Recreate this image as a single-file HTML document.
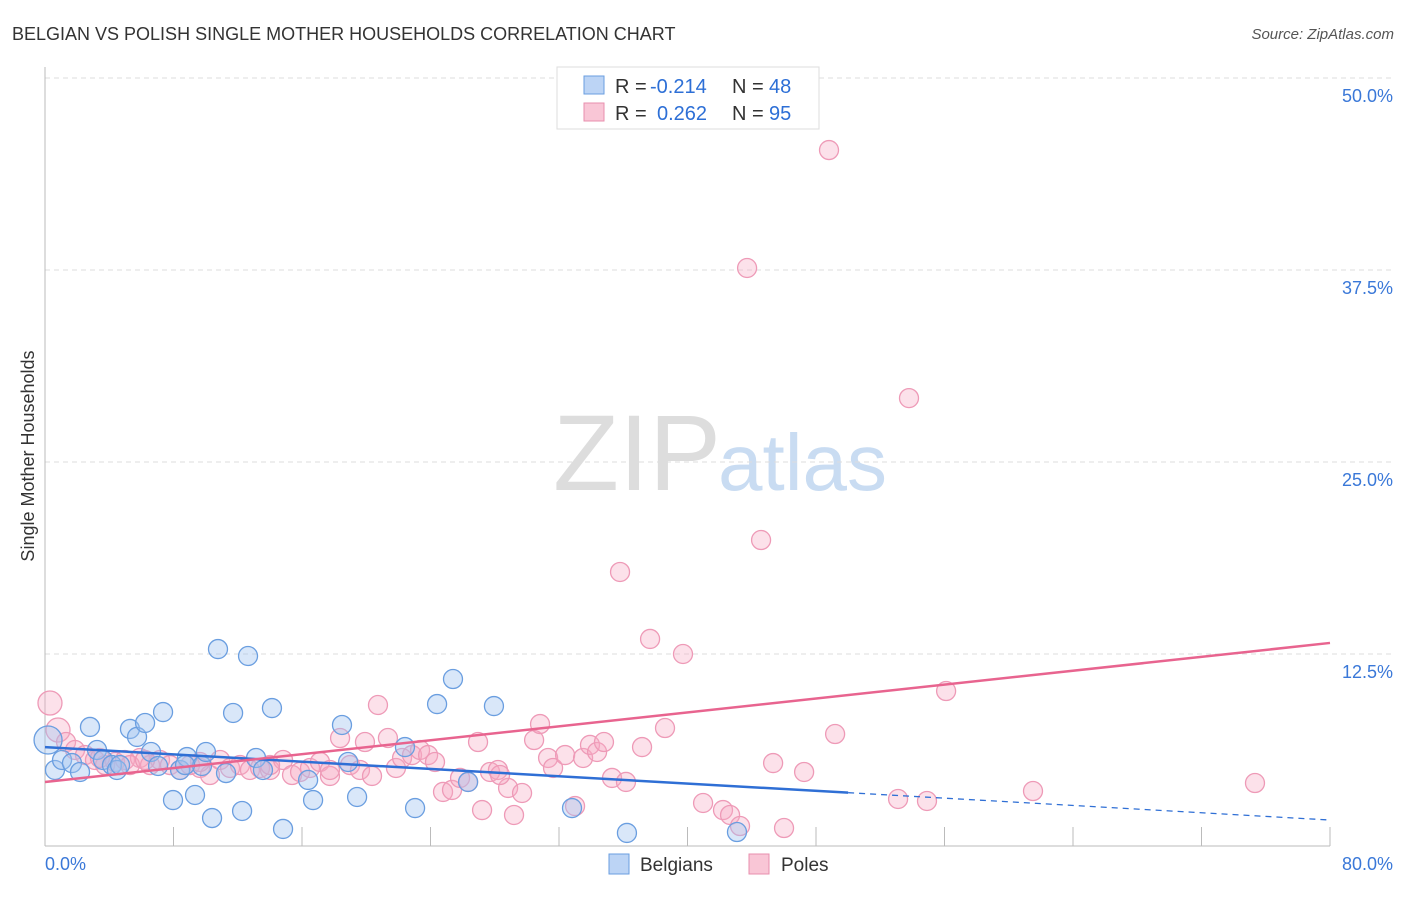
<!DOCTYPE html>
<html><head><meta charset="utf-8"><style>
body{margin:0;background:#fff;font-family:"Liberation Sans",sans-serif}
svg text{font-family:"Liberation Sans",sans-serif}
</style></head><body>
<svg id="chart" width="1406" height="892" viewBox="0 0 1406 892" xmlns="http://www.w3.org/2000/svg">
<text x="12" y="40" font-size="18" fill="#333">BELGIAN VS POLISH SINGLE MOTHER HOUSEHOLDS CORRELATION CHART</text>
<text x="1394" y="39" font-size="15" fill="#555" text-anchor="end" font-style="italic">Source: ZipAtlas.com</text>
<text x="553" y="490" font-size="108" fill="#ddd" font-family="Liberation Serif, serif">ZIP</text>
<text x="718" y="490" font-size="80" fill="#c9dcf2">atlas</text>
<text transform="translate(34,456) rotate(-90)" font-size="18" fill="#333" text-anchor="middle">Single Mother Households</text>
<g id="grid"></g><g id="axes"></g><g id="marks"></g><g id="trends"></g>
<g>
<rect x="557" y="67" width="262" height="62" fill="#fff" stroke="#ddd"/>
<rect x="584" y="76" width="20" height="18" fill="#bcd4f5" stroke="#6a9ee0"/>
<rect x="584" y="103" width="20" height="18" fill="#f9c6d6" stroke="#e88fae"/>
<text x="615" y="93" font-size="20" fill="#333">R =</text>
<text x="650" y="93" font-size="20" fill="#2d6fd6">-0.214</text>
<text x="732" y="93" font-size="20" fill="#333">N =</text>
<text x="769" y="93" font-size="20" fill="#2d6fd6">48</text>
<text x="615" y="120" font-size="20" fill="#333">R =</text>
<text x="657" y="120" font-size="20" fill="#2d6fd6">0.262</text>
<text x="732" y="120" font-size="20" fill="#333">N =</text>
<text x="769" y="120" font-size="20" fill="#2d6fd6">95</text>
</g>
<g>
<rect x="609" y="854" width="20" height="20" fill="#bcd4f5" stroke="#6a9ee0"/>
<text x="640" y="871" font-size="19" fill="#333">Belgians</text>
<rect x="749" y="854" width="20" height="20" fill="#f9c6d6" stroke="#e88fae"/>
<text x="781" y="871" font-size="19" fill="#333">Poles</text>
</g>
</svg>
<script>
const xTicks=[0,8,16,24,32,40,48,56,64,72,80];
const yTicks=[12.5,25,37.5,50];
const yTickLabels=["12.5%","25.0%","37.5%","50.0%"];
const belgX=[0.19,0.62,1.06,1.68,2.18,2.80,3.24,3.61,4.17,4.48,5.29,5.73,6.23,6.60,7.04,7.35,7.97,8.41,8.84,9.34,9.77,10.02,10.40,10.77,11.27,11.71,12.27,12.64,13.14,13.57,14.13,14.82,16.38,16.69,18.49,18.87,19.43,22.41,23.04,24.41,25.40,26.34,27.95,32.81,36.23,43.08,4.67,8.72];
const belgY=[6.90,4.95,5.60,5.40,4.82,7.75,6.25,5.60,5.27,4.95,7.62,7.10,8.01,6.12,5.21,8.72,2.99,4.95,5.79,3.32,5.21,6.12,1.82,12.82,4.75,8.66,2.28,12.37,5.73,4.95,8.98,1.11,4.30,2.99,7.88,5.47,3.19,6.44,2.47,9.24,10.87,4.17,9.11,2.47,0.85,0.91,5.27,5.27];
const polesX=[0.31,0.81,1.31,1.87,2.49,3.11,3.74,4.36,4.98,5.91,6.54,7.16,7.78,8.41,9.03,9.65,10.27,10.90,11.52,12.14,12.76,13.39,14.01,14.82,15.38,15.88,16.50,17.12,17.74,18.37,18.99,19.61,19.92,20.36,20.73,21.35,21.85,22.23,22.85,23.35,23.85,24.28,24.78,25.34,25.84,26.34,26.96,27.21,27.71,28.20,28.83,29.20,29.70,30.45,30.82,31.32,31.63,32.38,33.00,33.50,33.93,34.37,34.80,35.30,35.80,36.17,37.17,37.67,38.60,39.72,40.97,42.21,42.65,43.71,44.58,45.33,46.01,47.26,48.81,49.19,53.11,53.79,54.91,56.10,61.51,75.33,17.74,3.42,5.29,6.23,9.65,14.01,28.33,43.27];
const polesY=[9.31,7.55,6.77,6.25,5.92,5.60,5.27,5.47,5.60,5.73,5.27,5.60,5.27,4.95,5.27,5.08,4.62,5.60,5.08,5.27,4.95,5.08,4.95,5.60,4.62,4.82,5.08,5.47,4.56,7.03,5.27,4.95,6.77,4.56,9.18,7.03,5.08,5.73,5.92,6.25,5.92,5.47,3.52,3.65,4.43,4.17,6.77,2.34,4.82,4.95,3.78,2.02,3.45,6.90,7.94,5.73,5.08,5.92,2.60,5.73,6.58,6.12,6.77,4.43,17.84,4.17,6.44,13.48,7.68,12.50,2.80,2.34,2.02,37.63,19.92,5.40,1.17,4.82,45.31,7.29,3.06,29.16,2.93,10.09,3.58,4.10,4.95,5.73,5.27,5.60,5.47,5.27,4.62,1.30];
const belgTrend=[6.44,1.69];
const polesTrend=[4.17,13.22];
const belgSolidEnd=50;
const NS="http://www.w3.org/2000/svg";
const sx=v=>45+v/80*1285;
const sy=v=>846-v/50*768;
function mk(tag,attrs,parent){const e=document.createElementNS(NS,tag);for(const k in attrs)e.setAttribute(k,attrs[k]);parent.appendChild(e);return e;}
const grid=document.getElementById('grid'),axes=document.getElementById('axes'),marks=document.getElementById('marks'),trends=document.getElementById('trends');
yTicks.forEach((t,i)=>{
 const l=mk('line',{x1:45,x2:1392,y1:sy(t),y2:sy(t),stroke:'#ddd','stroke-dasharray':'5,4'},grid);
 
 
 const tx=mk('text',{x:1393,y:sy(t)+24,'font-size':18,fill:'#3a78d8','text-anchor':'end'},axes);
 tx.textContent=yTickLabels[i];
 
 
});
const ya=mk('line',{x1:45,x2:45,y1:67,y2:846,stroke:'#bbb'},axes);


const xa=mk('line',{x1:45,x2:1330,y1:846,y2:846,stroke:'#bbb'},axes);


xTicks.forEach(t=>{
 const l=mk('line',{x1:sx(t),x2:sx(t),y1:827,y2:846,stroke:'#bbb'},axes);
 
 
});
[[0,'0.0%','start',45],[80,'80.0%','end',1393]].forEach(a=>{
 const tx=mk('text',{x:a[3],y:870,'font-size':18,fill:'#3a78d8','text-anchor':a[2]},axes);
 tx.textContent=a[1];
 
 
});
polesX.forEach((x,i)=>{
 const c=mk('circle',{cx:sx(x),cy:sy(polesY[i]),r:i<2?12:9.5,fill:'rgba(246,170,195,0.35)',stroke:'#ee9ab7','stroke-width':1.3},marks);
 
 
});
belgX.forEach((x,i)=>{
 const c=mk('circle',{cx:sx(x),cy:sy(belgY[i]),r:i==0?14:9.5,fill:'rgba(160,195,240,0.4)',stroke:'#6a9ee0','stroke-width':1.3},marks);
 
 
});
const slope=(belgTrend[1]-belgTrend[0])/80;
const b1=mk('line',{x1:sx(0),y1:sy(belgTrend[0]),x2:sx(belgSolidEnd),y2:sy(belgTrend[0]+slope*belgSolidEnd),stroke:'#2f6fd5','stroke-width':2.5},trends);


const b2=mk('line',{x1:sx(belgSolidEnd),y1:sy(belgTrend[0]+slope*belgSolidEnd),x2:sx(80),y2:sy(belgTrend[1]),stroke:'#2f6fd5','stroke-width':1.3,'stroke-dasharray':'6,5'},trends);


const p1=mk('line',{x1:sx(0),y1:sy(polesTrend[0]),x2:sx(80),y2:sy(polesTrend[1]),stroke:'#e8648f','stroke-width':2.5},trends);


</script>
</body></html>
